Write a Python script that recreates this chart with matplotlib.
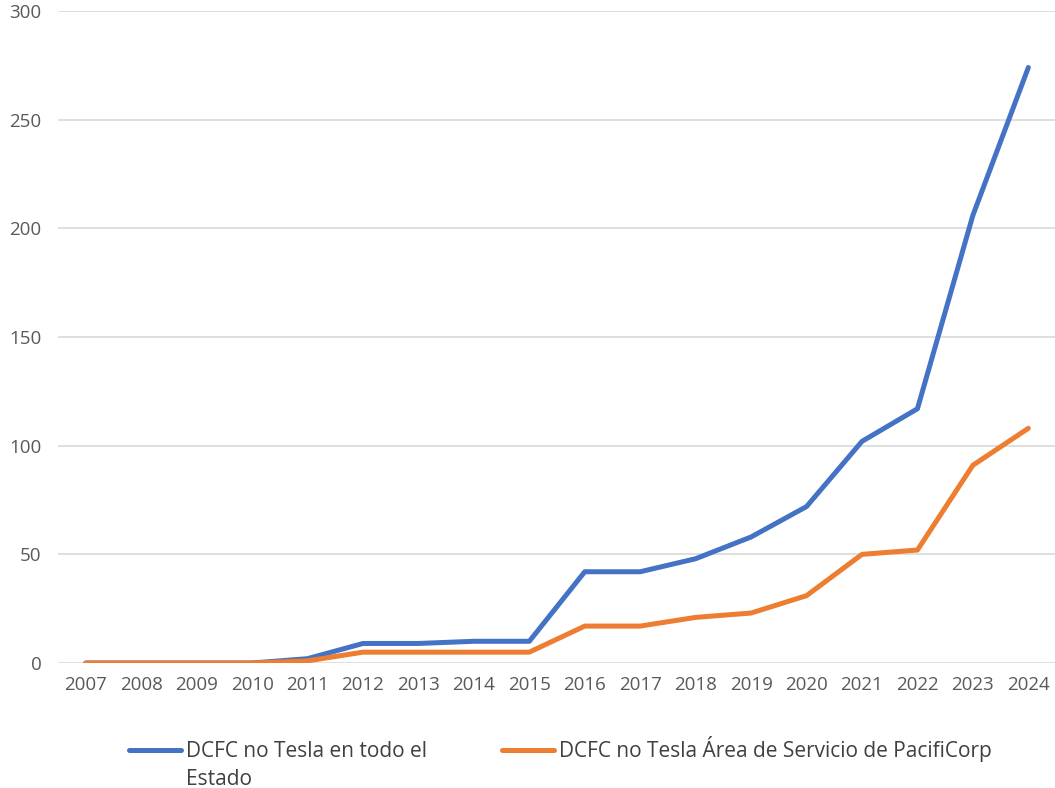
import numpy as np
import matplotlib
matplotlib.use('Agg')
import matplotlib.pyplot as plt

years = ['2007', '2008', '2009', '2010', '2011', '2012', '2013', '2014', '2015',
         '2016', '2017', '2018', '2019', '2020', '2021', '2022', '2023', '2024']
estado = [0, 0, 0, 0, 2, 9, 9, 10, 10, 42, 42, 48, 58, 72, 102, 117, 206, 274]
pacificorp = [0, 0, 0, 0, 1, 5, 5, 5, 5, 17, 17, 21, 23, 31, 50, 52, 91, 108]
labels = ['DCFC no Tesla en todo el', 'DCFC no Tesla Área de Servicio de PacifiCorp']
label_wrap = 'Estado'  # second line of first legend entry

blue = '#4472C4'
orange = '#ED7D31'
gray_txt = '#595959'

plt.rcParams['font.family'] = ['Open Sans', 'DejaVu Sans']

fig = plt.figure(figsize=(10.55, 7.88), dpi=100)
ax = fig.add_axes([0.055, 0.1586, 0.946, 0.8274])

x = np.arange(len(years))
ax.plot(x, estado, color=blue, lw=3.6, solid_capstyle='round', solid_joinstyle='round', label=labels[0])
ax.plot(x, pacificorp, color=orange, lw=3.6, solid_capstyle='round', solid_joinstyle='round', label=labels[1])

ax.set_xlim(-0.5, len(years) - 0.5)
ax.set_ylim(0, 300)
ax.set_yticks(np.arange(0, 301, 50))
ax.set_xticks(x)
ax.set_xticklabels(years)
ax.yaxis.grid(True, color='#D9D9D9', lw=1.2)
ax.set_axisbelow(True)
for s in ax.spines.values():
    s.set_visible(False)
ax.tick_params(axis='both', length=0, labelsize=13.5, labelcolor=gray_txt)
ax.tick_params(axis='x', pad=9)
ax.tick_params(axis='y', pad=12)

leg = fig.legend(loc='center left', bbox_to_anchor=(0.122, 0.0495), ncol=2, frameon=False,
                 fontsize=15, handlelength=2.5, handletextpad=0.25, columnspacing=3.6,
                 borderaxespad=0, borderpad=0)
for t in leg.get_texts():
    t.set_color('#404040')

# wrapped second line under the first legend label
fig.canvas.draw()
bb = leg.get_texts()[0].get_window_extent().transformed(fig.transFigure.inverted())
fig.text(bb.x0, bb.y0 + bb.height / 2 - 28 / 788, label_wrap, fontsize=15, color='#404040',
         ha='left', va='center')

fig.savefig('out.png', dpi=100)
